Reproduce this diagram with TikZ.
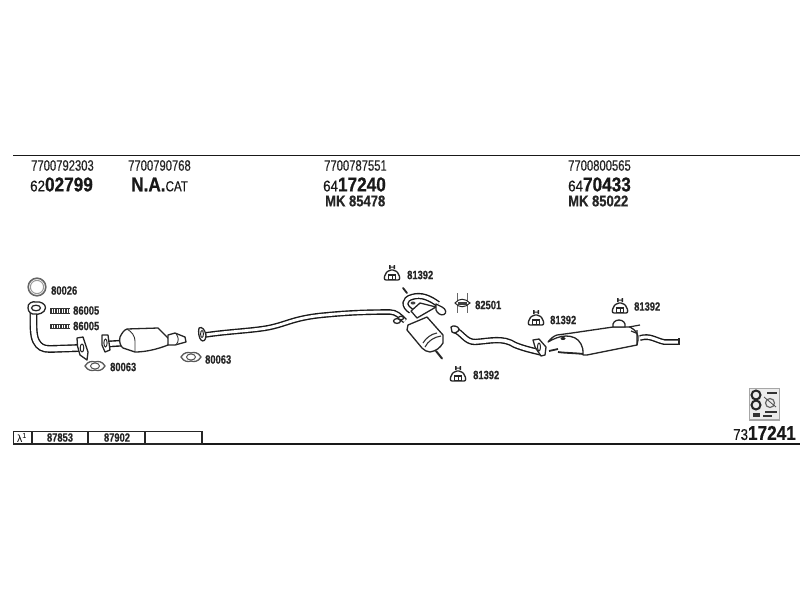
\documentclass[tikz,border=0pt]{standalone}
\usepackage{fontspec}
\setmainfont{Liberation Sans}
\newfontfamily\narrowf[FakeStretch=0.75,FakeBold=0.5]{Liberation Sans}
\newfontfamily\labf[FakeStretch=0.78,BoldFeatures={FakeBold=0.5}]{Liberation Sans}
\newfontfamily\bigf[FakeStretch=0.86,FakeBold=0.4,BoldFeatures={FakeBold=0.7}]{Liberation Sans}
\newfontfamily\mkf[FakeStretch=0.84,BoldFeatures={FakeBold=0.5}]{Liberation Sans}
\newfontfamily\catf[FakeStretch=0.8,FakeBold=0.5]{Liberation Sans}
\begin{document}
\begin{tikzpicture}[x=1pt,y=-1pt,
  rule/.style={draw=black!90,line width=1.6pt},
  cell/.style={draw=black!85,line width=1.2pt},
  pipe/.style={draw=black!90,double=white,line width=1.4pt,double distance=2.8pt},
  partline/.style={draw=black!85,line width=1.3pt,fill=white,line join=round},
  numtext/.style={anchor=west,inner sep=0pt,font=\narrowf\fontsize{15}{15}\selectfont,text=black!85},
  bigtext/.style={anchor=west,inner sep=0pt,font=\bigf\fontsize{20}{20}\selectfont,text=black!90},
  mktext/.style={anchor=west,inner sep=0pt,font=\mkf\bfseries\fontsize{15.5}{15.5}\selectfont,text=black!85},
  lab/.style={anchor=west,inner sep=0pt,font=\labf\bfseries\fontsize{12}{12}\selectfont,text=black!85},
  hangerpic/.pic={
    \draw[black!85,line width=1.3pt,fill=white,rounded corners=2pt] (-8,7) -- (-7,1) -- (-3,-3) -- (3,-3) -- (7,1) -- (8,7) -- cycle;
    \fill[black!85] (-3,-8) rectangle (-1.5,-4) (1.5,-8) rectangle (3,-4) (-3,-6.5) rectangle (3,-5.5);
    \draw[black!85,line width=1.3pt,fill=white] (-3.4,2) rectangle (3.4,6.5);
    \draw[black!85,line width=.9pt] (0,2) -- (0,6.5);
  },
  springpic/.pic={
    \draw[black!80,line width=4.5pt,dash pattern=on 1.5pt off 1pt] (0,0) -- (20,0);
    \draw[black!80,line width=.9pt] (0,-2.2) -- (20,-2.2) (0,2.2) -- (20,2.2);
  },
  gasketpic/.pic={
    \draw[black!65,line width=1.3pt,fill=white] (-10,0) .. controls (-7,-5) and (-3,-5) .. (0,-4) .. controls (3,-5) and (7,-5) .. (10,0) .. controls (7,5) and (3,5) .. (0,4) .. controls (-3,5) and (-7,5) .. (-10,0) -- cycle;
    \draw[black!65,line width=1pt] (0,0) ellipse (4.5 and 3);
  }]
\useasboundingbox (0,0) rectangle (800,600);
\fill[white] (0,0) rectangle (800,600);

% frame rules
\draw[rule] (13,155.5) -- (800,155.5);
\draw[rule] (13,444) -- (800,444);
\draw[cell] (13.5,431.5) rectangle (202,444);
\draw[cell] (32,431.5) -- (32,444) (88,431.5) -- (88,444) (145,431.5) -- (145,444);

% table text
\node[anchor=center,inner sep=0pt,font=\fontsize{10.5}{10.5}\selectfont] (lam) at (22,437.5) {λ\textsuperscript{1}};
\node[lab,anchor=center] (t1) at (60,437.5) {87853};
\node[lab,anchor=center] (t2) at (117,437.5) {87902};

% header
\node[numtext] (a1) at (31,165.5) {7700792303};
\node[bigtext] (a2) at (30,184.5) {{\fontsize{15.5}{15.5}\selectfont 62}\textbf{02799}};
\node[numtext] (b1) at (128,165.5) {7700790768};
\node[bigtext] (b2) at (131,184.5) {\textbf{N.A.}{\catf\fontsize{14.5}{14.5}\selectfont CAT}};
\node[numtext] (c1) at (324,165.5) {7700787551};
\node[bigtext] (c2) at (323,184.5) {{\fontsize{15.5}{15.5}\selectfont 64}\textbf{17240}};
\node[mktext] (c3) at (325,201) {MK 85478};
\node[numtext] (d1) at (568,165.5) {7700800565};
\node[bigtext] (d2) at (568,184.5) {{\fontsize{15.5}{15.5}\selectfont 64}\textbf{70433}};
\node[mktext] (d3) at (568,201) {MK 85022};

% gasket ring and manifold pipe
\draw[black!60,line width=1.6pt,fill=white] (37,287) circle (8.8);
\draw[black!40,line width=1pt] (37,287) circle (6.6);
\node[lab] at (51,290.5) {80026};

\draw[pipe,double distance=5pt] (33.5,313) .. controls (33.5,325) and (33,335) .. (36,341) .. controls (39,347) and (43,349) .. (50,349) -- (79,348);
\draw[partline] (28,308) .. controls (27,303) and (33,301) .. (36,302) .. controls (40,301) and (46,304) .. (45.5,308) .. controls (45,313) and (38,315) .. (35,314) .. controls (32,315) and (28,312) .. (28,308) -- cycle;
\draw[black!85,line width=1.2pt] (36,308) ellipse (4.5 and 2.8);
\draw[partline] (77,338) -- (83,337) -- (88,352) -- (87,360) -- (80,355) -- (77.5,346) -- cycle;
\draw[black!85,line width=1pt] (82,348) ellipse (1.8 and 4);

\path (50,311) pic {springpic};
\node[lab] at (73,310.5) {86005};
\path (50,326.5) pic {springpic};
\node[lab] at (73,326) {86005};

\path (95,366) pic {gasketpic};
\node[lab] at (110,367) {80063};

% catalytic converter
\draw[pipe,double distance=4pt] (108,344) -- (124,343);
\draw[partline] (102,335) -- (108,335) -- (110,350) -- (105,352) -- (102,345) -- cycle;
\draw[black!85,line width=1pt] (105.5,343) ellipse (1.6 and 4);
\draw[partline] (120,337) .. controls (122,333) and (124,330) .. (127,329) -- (158,328) -- (170,340) -- (168,345) .. controls (158,349) and (146,352) .. (135,352) -- (123,348) .. controls (120,346) and (119,341) .. (120,337) -- cycle;
\draw[black!80,line width=.9pt] (127,329) .. controls (132,332) and (135,336) .. (135,341) -- (135,352);
\draw[partline] (168,335) -- (175,333) -- (185,337) -- (186,342) -- (175,345) -- (168,345) -- cycle;
\draw[black!80,line width=.9pt] (176,333.5) .. controls (179,338) and (179,341) .. (176,345);

\path (191,357) pic {gasketpic};
\node[lab] at (205,359.5) {80063};

% middle pipe
\draw[pipe] (205,335) .. controls (225,332) and (245,331) .. (260,329) .. controls (285,326) and (290,318) .. (325,315) .. controls (350,312.5) and (370,312) .. (390,312) .. controls (396,312) and (400,316) .. (405,321);
\draw[partline] (199,328) .. controls (202,326) and (205,330) .. (206,335) .. controls (206,341) and (203,342) .. (201,340) .. controls (199,338) and (198,332) .. (199,328) -- cycle;
\draw[black!85,line width=1pt] (202,334) ellipse (1.4 and 3.5);

% centre muffler
\draw[pipe,double distance=3.4pt] (411,311) .. controls (403,306) and (404,299) .. (412,297) .. controls (421,294) and (430,298) .. (438,304);
\draw[partline] (411,311) -- (420,303) -- (436,307) -- (417,318) -- cycle;
\fill[black!75] (413,303) ellipse (2.5 and 1.5);
\draw[partline] (436,304) -- (442,307) .. controls (446,309) and (447,313) .. (444,314.5) .. controls (441,316) and (437,313) .. (436,310) -- cycle;
\draw[black!85,line width=1.8pt,line cap=round] (403,288) -- (407,293);
\draw[partline] (408,325) -- (427,317) -- (443,335) -- (443,343) .. controls (440,348) and (436,351) .. (430,352) .. controls (427,352) and (424,350) .. (422,348) -- (407,330) -- cycle;
\draw[black!80,line width=1.1pt] (423,343) .. controls (426,338) and (431,334) .. (437,333);
\draw[black!80,line width=1.1pt] (425,347) .. controls (428,341) and (434,337) .. (441,336);
\draw[black!85,line width=2pt,line cap=round] (436,351) -- (442,358.5);
\draw[partline] (397,321) ellipse (3.5 and 2.4);
\draw[partline] (401,318) ellipse (2.6 and 1.8);

\path (392,273) pic {hangerpic};
\node[lab] at (407,275) {81392};
\path (458,374) pic {hangerpic};
\node[lab] at (473,375) {81392};

% clamp
\draw[black!60,line width=1pt] (457,293) -- (457,313) (467,293) -- (467,313);
\draw[black!85,line width=1pt,fill=white] (455,303) .. controls (459,298) and (465,298) .. (470,303) .. controls (465,308) and (459,308) .. (455,303) -- cycle;
\fill[black!75] (458,301.5) rectangle (467,304.5);
\node[lab] at (475,305) {82501};

% rear pipe
\draw[pipe,double distance=3.6pt] (454,330) .. controls (462,332) and (465,342) .. (475,342) .. controls (490,341) and (503,337) .. (515,345) .. controls (525,349) and (535,351) .. (543,353);
\draw[partline] (451,327) .. controls (453,325) and (458,326) .. (459,329) .. controls (459,332) and (454,334) .. (452,332) -- cycle;
\draw[partline] (533,340) -- (539,339) -- (546,347) -- (545,355) -- (541,356) -- (535,347) -- cycle;
\draw[black!85,line width=1pt] (539,347) ellipse (1.5 and 4);

% rear muffler
\draw[partline] (548,342) .. controls (551,338) and (554,336) .. (557,335) -- (572,333) -- (613,327) -- (630,327) .. controls (636,330) and (639,335) .. (638,340) -- (637,345) -- (587,355) -- (583,355) .. controls (583,350) and (583,347) .. (581,344) .. controls (578,338) and (572,336) .. (566,336) .. controls (560,336) and (553,339) .. (548,342) -- cycle;
\draw[black!85,line width=1.8pt] (549,351) -- (558,349) (558,352) .. controls (565,353) and (575,353) .. (583,354);
\fill[black!85] (563,338.5) ellipse (2.5 and 1.5);
\draw[black!85,line width=1.3pt,fill=white] (613,327) .. controls (612,323) and (615,320) .. (619,320) .. controls (623,320) and (626,323) .. (625,327) -- cycle;
\draw[black!85,line width=1.2pt] (629,327) -- (640,325) (631,331) -- (636,333) (637,330) -- (637,345);
\draw[pipe,double distance=3pt] (640,338) .. controls (650,335) and (655,340) .. (664,342) -- (678,342);
\draw[black!85,line width=1.3pt] (679,338) -- (679,345);

\path (536,318) pic {hangerpic};
\node[lab] at (550,320) {81392};
\path (620,306) pic {hangerpic};
\node[lab] at (634,306.5) {81392};

% symbol
\draw[black!35,line width=1.2pt,fill=black!8] (749.5,388.5) rectangle (779.5,420);
\draw[black!85,line width=2pt] (756,395) circle (4.5) (756,405) circle (4.5);
\draw[black!80,line width=1.2pt] (767,393) -- (777,393) (765,412) -- (777,412) (763,416) -- (772,416);
\draw[black!60,line width=1.2pt] (770,403) circle (4.5);
\fill[black!80] (753,413) rectangle (760,417);
\draw[black!70,line width=.8pt] (764,397) -- (776,407);

\node[bigtext] (e) at (733,433) {{\fontsize{15.5}{15.5}\selectfont 73}\textbf{17241}};
\end{tikzpicture}
\end{document}
